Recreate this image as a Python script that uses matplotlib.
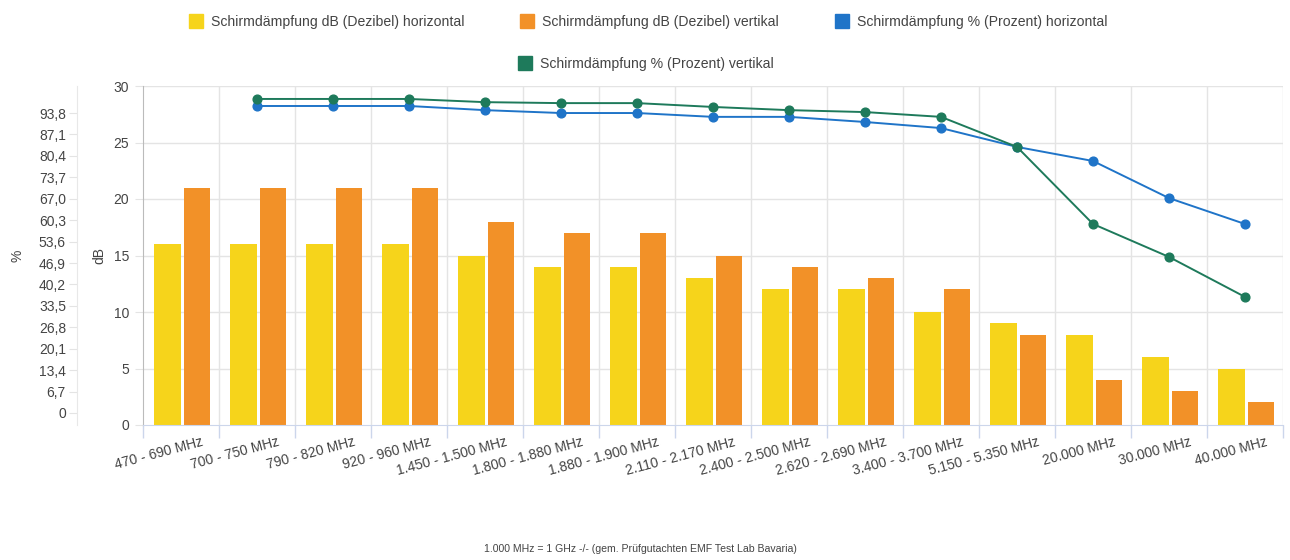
import numpy as np
import matplotlib
matplotlib.use("Agg")
import matplotlib.pyplot as plt
from matplotlib.lines import Line2D
import matplotlib.transforms as mtransforms

plt.rcParams['font.family'] = ['Liberation Sans', 'DejaVu Sans']

categories = ["470 - 690 MHz", "700 - 750 MHz", "790 - 820 MHz", "920 - 960 MHz",
              "1.450 - 1.500 MHz", "1.800 - 1.880 MHz", "1.880 - 1.900 MHz",
              "2.110 - 2.170 MHz", "2.400 - 2.500 MHz", "2.620 - 2.690 MHz",
              "3.400 - 3.700 MHz", "5.150 - 5.350 MHz", "20.000 MHz",
              "30.000 MHz", "40.000 MHz"]
db_horizontal = [16, 16, 16, 16, 15, 14, 14, 13, 12, 12, 10, 9, 8, 6, 5]
db_vertical = [21, 21, 21, 21, 18, 17, 17, 15, 14, 13, 12, 8, 4, 3, 2]
pct_horizontal = [np.nan, 96.0, 96.0, 96.0, 94.7, 93.8, 93.8, 92.6, 92.6, 91.0,
                  89.1, 83.2, 78.8, 67.2, 59.1]
pct_vertical = [np.nan, 98.2, 98.2, 98.2, 97.2, 96.9, 96.9, 95.7, 94.7, 94.1,
                92.6, 83.2, 59.1, 48.8, 36.3]
db_ticks = [0, 5, 10, 15, 20, 25, 30]
pct_ticks = [0, 6.7, 13.4, 20.1, 26.8, 33.5, 40.2, 46.9, 53.6, 60.3, 67.0,
             73.7, 80.4, 87.1, 93.8]
pct_ticklabels = ["0", "6,7", "13,4", "20,1", "26,8", "33,5", "40,2", "46,9",
                  "53,6", "60,3", "67,0", "73,7", "80,4", "87,1", "93,8"]
series_names = ["Schirmdämpfung dB (Dezibel) horizontal",
                "Schirmdämpfung dB (Dezibel) vertikal",
                "Schirmdämpfung % (Prozent) horizontal",
                "Schirmdämpfung % (Prozent) vertikal"]
caption = "1.000 MHz = 1 GHz -/- (gem. Prüfgutachten EMF Test Lab Bavaria)"

c_yellow = "#F6D41B"
c_orange = "#F29128"
c_blue = "#1F74C8"
c_green = "#1E7A5B"
grid_c = "#E4E4E4"
txt_c = "#444444"

W, H = 1290, 560
fig = plt.figure(figsize=(W / 100, H / 100), dpi=100)
fig.patch.set_facecolor("white")
ax = fig.add_axes([143 / W, 1 - 425 / H, (1283 - 143) / W, (425 - 86) / H])

x = np.arange(len(categories))
ax.bar(x - 0.184, db_horizontal, width=0.355, color=c_yellow, zorder=2)
ax.bar(x + 0.217, db_vertical, width=0.342, color=c_orange, zorder=2)
ax.set_xlim(-0.5, len(categories) - 0.5)
ax.set_ylim(0, 30)
ax.set_yticks(db_ticks)
ax.set_yticklabels([str(t) for t in db_ticks])

for t in db_ticks[1:]:
    ax.axhline(t, color=grid_c, lw=1, zorder=0)
for b in np.arange(-0.5, len(categories), 1.0)[1:]:
    ax.axvline(b, color=grid_c, lw=1, zorder=0)

ax.set_xticks(x)
ax.set_xticklabels(categories, rotation=15, ha="right", va="top",
                   rotation_mode="anchor", fontsize=10, color=txt_c)
ax.tick_params(axis="x", length=0, pad=7)
offset = mtransforms.ScaledTranslation(20 / 100, 0, fig.dpi_scale_trans)
for lbl in ax.get_xticklabels():
    lbl.set_transform(lbl.get_transform() + offset)
ax.set_xticks(np.arange(-0.5, len(categories), 1.0), minor=True)
ax.tick_params(axis="x", which="minor", length=9, color="#CCD6EB", width=1)

ax.tick_params(axis="y", length=6, color=grid_c, labelsize=10, labelcolor=txt_c, pad=4)
for s in ["top", "right"]:
    ax.spines[s].set_visible(False)
ax.spines["left"].set_color("#BBBBBB")
ax.spines["bottom"].set_color("#CCD6EB")
ax.set_ylabel("dB", fontsize=10, color=txt_c, labelpad=5)
ax.set_facecolor("white")

ax2 = ax.twinx()
ax2.set_ylim((413 - 425) / 3.198, (413 - 86) / 3.198)
ax2.plot(x, pct_horizontal, color=c_blue, lw=1.4, marker="o", ms=6.3, zorder=5)
ax2.plot(x, pct_vertical, color=c_green, lw=1.4, marker="o", ms=6.3, zorder=5)
ax2.yaxis.set_ticks_position("left")
ax2.yaxis.set_label_position("left")
ax2.spines["left"].set_position(("outward", 47.5))
ax2.spines["left"].set_color("#E8E8E8")
for s in ["top", "right", "bottom"]:
    ax2.spines[s].set_visible(False)
ax2.set_yticks(pct_ticks)
ax2.set_yticklabels(pct_ticklabels)
ax2.tick_params(axis="y", length=6, color=grid_c, labelsize=10, labelcolor=txt_c, pad=2)
ax2.set_ylabel("%", fontsize=10, color=txt_c, labelpad=10)

def h(c):
    return Line2D([], [], color=c, marker="s", ls="none", markersize=9.5)

leg1 = fig.legend([h(c_yellow), h(c_orange), h(c_blue)], series_names[:3],
                  loc="center", bbox_to_anchor=(648 / W, 1 - 22 / H), ncol=3,
                  frameon=False, fontsize=10.1, handlelength=1.0, handletextpad=0.55,
                  columnspacing=4.0, labelcolor=txt_c)
leg2 = fig.legend([h(c_green)], series_names[3:], loc="center",
                  bbox_to_anchor=(646 / W, 1 - 64 / H), frameon=False, fontsize=10.1,
                  handlelength=1.0, handletextpad=0.55, labelcolor=txt_c)

fig.text(640 / W, 1 - 549 / H, caption, ha="center", va="center", fontsize=7.6, color=txt_c)

fig.savefig("out.png", dpi=100)
